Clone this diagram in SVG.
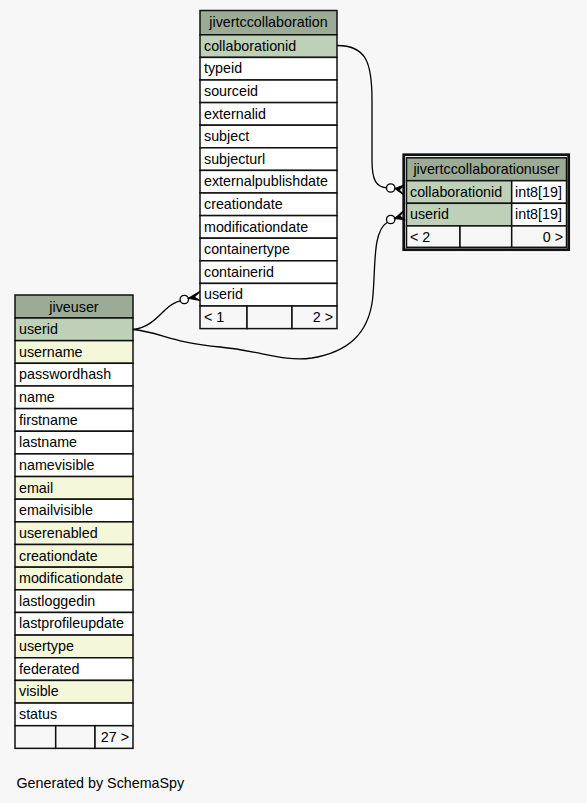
<svg xmlns="http://www.w3.org/2000/svg" width="587" height="803" viewBox="0 0 587 803">
<style>
text{font-family:"Liberation Sans",Arial,Helvetica,sans-serif;font-size:14.3px;fill:#000}
.c{stroke:#111;stroke-width:1.5}
.h{fill:#9bab96}
.k{fill:#bed1b8}
.i{fill:#f4f7da}
.w{fill:#ffffff}
.f{fill:#f7f7f7}
.m{text-anchor:middle}
.r{text-anchor:end}
.e{fill:none;stroke:#000;stroke-width:1.3}
.o{fill:#fff;stroke:#000;stroke-width:1.3}
.cr{fill:#000;stroke:#000;stroke-width:1.2;stroke-linejoin:miter}
</style>
<rect width="587" height="803" fill="#f7f7f7"/>

<g id="jivertccollaboration">
<rect class="c h" x="200" y="10.5" width="137" height="24.3"/>
<text class="m" x="268.5" y="26.5">jivertccollaboration</text>
<rect class="c k" x="200" y="34.8" width="137" height="22.6"/><text x="204" y="50.8">collaborationid</text>
<rect class="c w" x="200" y="57.4" width="137" height="22.6"/><text x="204" y="73.4">typeid</text>
<rect class="c w" x="200" y="80" width="137" height="22.6"/><text x="204" y="96">sourceid</text>
<rect class="c w" x="200" y="102.6" width="137" height="22.6"/><text x="204" y="118.6">externalid</text>
<rect class="c w" x="200" y="125.2" width="137" height="22.6"/><text x="204" y="141.2">subject</text>
<rect class="c w" x="200" y="147.8" width="137" height="22.6"/><text x="204" y="163.8">subjecturl</text>
<rect class="c w" x="200" y="170.4" width="137" height="22.6"/><text x="204" y="186.4">externalpublishdate</text>
<rect class="c w" x="200" y="193" width="137" height="22.6"/><text x="204" y="209">creationdate</text>
<rect class="c w" x="200" y="215.6" width="137" height="22.6"/><text x="204" y="231.6">modificationdate</text>
<rect class="c w" x="200" y="238.2" width="137" height="22.6"/><text x="204" y="254.2">containertype</text>
<rect class="c w" x="200" y="260.8" width="137" height="22.6"/><text x="204" y="276.8">containerid</text>
<rect class="c w" x="200" y="283.4" width="137" height="22.6"/><text x="204" y="299.4">userid</text>
<rect class="c f" x="200" y="306" width="47" height="22.6"/>
<rect class="c f" x="247" y="306" width="45" height="22.6"/>
<rect class="c f" x="292" y="306" width="45" height="22.6"/>
<text x="204" y="322">&lt; 1</text>
<text class="r" x="333" y="322">2 &gt;</text>
</g>

<g id="jivertccollaborationuser">
<rect x="403.7" y="154.7" width="165" height="95" fill="none" stroke="#111" stroke-width="2.7"/>
<rect class="c h" x="406.5" y="157.8" width="160" height="22.9"/>
<text class="m" x="486.5" y="173.8">jivertccollaborationuser</text>
<rect class="c k" x="406.5" y="180.7" width="105.2" height="22.6"/><text x="410" y="196.7">collaborationid</text>
<rect class="c w" x="511.7" y="180.7" width="54.8" height="22.6"/><text x="515" y="196.7">int8[19]</text>
<rect class="c k" x="406.5" y="203.3" width="105.2" height="22.6"/><text x="410" y="219.3">userid</text>
<rect class="c w" x="511.7" y="203.3" width="54.8" height="22.6"/><text x="515" y="219.3">int8[19]</text>
<rect class="c f" x="406.5" y="225.9" width="53.5" height="21.4"/>
<rect class="c f" x="460" y="225.9" width="51.7" height="21.4"/>
<rect class="c f" x="511.7" y="225.9" width="54.8" height="21.4"/>
<text x="410" y="241.5">&lt; 2</text>
<text class="r" x="563" y="241.5">0 &gt;</text>
</g>

<g id="jiveuser">
<rect class="c h" x="15" y="295" width="118" height="23"/>
<text class="m" x="74" y="311.5">jiveuser</text>
<rect class="c k" x="15" y="318" width="118" height="22.65"/><text x="19" y="334">userid</text>
<rect class="c i" x="15" y="340.65" width="118" height="22.65"/><text x="19" y="356.65">username</text>
<rect class="c w" x="15" y="363.3" width="118" height="22.65"/><text x="19" y="379.3">passwordhash</text>
<rect class="c w" x="15" y="385.95" width="118" height="22.65"/><text x="19" y="401.95">name</text>
<rect class="c w" x="15" y="408.6" width="118" height="22.65"/><text x="19" y="424.6">firstname</text>
<rect class="c w" x="15" y="431.25" width="118" height="22.65"/><text x="19" y="447.25">lastname</text>
<rect class="c w" x="15" y="453.9" width="118" height="22.65"/><text x="19" y="469.9">namevisible</text>
<rect class="c i" x="15" y="476.55" width="118" height="22.65"/><text x="19" y="492.55">email</text>
<rect class="c w" x="15" y="499.2" width="118" height="22.65"/><text x="19" y="515.2">emailvisible</text>
<rect class="c i" x="15" y="521.85" width="118" height="22.65"/><text x="19" y="537.85">userenabled</text>
<rect class="c i" x="15" y="544.5" width="118" height="22.65"/><text x="19" y="560.5">creationdate</text>
<rect class="c i" x="15" y="567.15" width="118" height="22.65"/><text x="19" y="583.15">modificationdate</text>
<rect class="c w" x="15" y="589.8" width="118" height="22.65"/><text x="19" y="605.8">lastloggedin</text>
<rect class="c w" x="15" y="612.45" width="118" height="22.65"/><text x="19" y="628.45">lastprofileupdate</text>
<rect class="c i" x="15" y="635.1" width="118" height="22.65"/><text x="19" y="651.1">usertype</text>
<rect class="c w" x="15" y="657.75" width="118" height="22.65"/><text x="19" y="673.75">federated</text>
<rect class="c i" x="15" y="680.4" width="118" height="22.65"/><text x="19" y="696.4">visible</text>
<rect class="c w" x="15" y="703.05" width="118" height="22.65"/><text x="19" y="719.05">status</text>
<rect class="c f" x="15" y="725.7" width="40.7" height="22.65"/>
<rect class="c f" x="55.7" y="725.7" width="39.3" height="22.65"/>
<rect class="c f" x="95" y="725.7" width="38" height="22.65"/>
<text class="r" x="129" y="741.7">27 &gt;</text>
</g>

<g id="connectors">
<path class="e" d="M337,45.5 C366,45.5 372,62 372,100 L372,160 C372,180 376,187 386.5,187.8"/>
<circle class="o" cx="390.7" cy="188" r="4.2"/>
<path class="cr" d="M395,188.5 L404,185 L399,190 L404,195 Z"/>
<path class="e" d="M133,329.5 C148,328 157,318 165,310 C170,305 175,302 180.3,300.8"/>
<circle class="o" cx="184.3" cy="299.5" r="4.2"/>
<path class="cr" d="M188.5,298.3 L200,291.5 L194,297 L200,300.5 Z"/>
<path class="e" d="M133,329.5 C160,332 172,343 220,347 C262,351 282,362 312,358 C348,352 368,334 372.5,300 C376,268 372,232 387,222.5"/>
<circle class="o" cx="390.7" cy="219.5" r="4.2"/>
<path class="cr" d="M394.8,218.5 L404,210.5 L399.5,216 L404,219.5 Z"/>
</g>

<text x="16.5" y="787.5">Generated by SchemaSpy</text>
</svg>
